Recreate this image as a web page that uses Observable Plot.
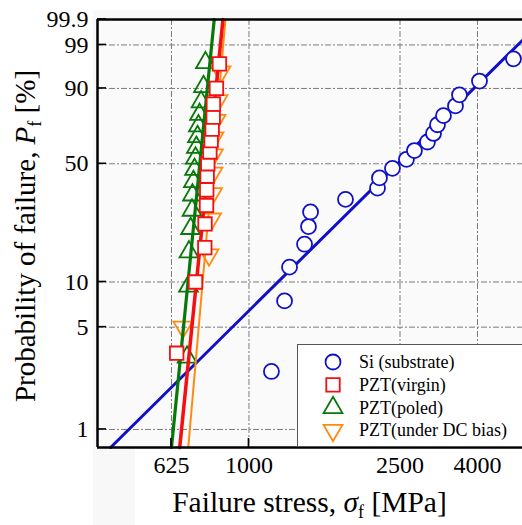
<!DOCTYPE html>
<html><head><meta charset="utf-8">
<script src="https://cdn.jsdelivr.net/npm/d3@7"></script>
<script src="https://cdn.jsdelivr.net/npm/@observablehq/plot@0.6"></script>
<style>
html,body{margin:0;padding:0;background:#fff}
#chart{position:relative;width:522px;height:525px;overflow:hidden}
</style>
</head><body><div id="chart"></div>
<script>
// ---- data ----
const xTickValues = [625, 1000, 2500, 4000];            // MPa
const yTickLabels = [1, 5, 10, 50, 90, 99, 99.9];        // %
const xDomain = [399, 5256];                             // MPa
const yDomainP = [0.751, 99.9];                          // %

const siStress = [1146,1241,1279,1401,1435,1453,1796,2181,2207,2388,2600,2729,2953,3063,3138,3254,3500,3586,4049,4976];
const siP = [2.5,7.5,12.5,17.5,22.5,27.5,32.5,37.5,42.5,47.5,52.5,57.5,62.5,67.5,72.5,77.5,82.5,87.5,92.5,97.5];

const virginStress = [645,723,765,766,773,774,776,779,789,795,800,805,806,821,836];
const virginP = [3.33,10,16.67,23.33,30,36.67,43.33,50,56.67,63.33,70,76.67,83.33,90,96.67];

const poledStress = [687,693,695,702,708,710,714,719,723,727,732,736,741,748,759,768];
const poledP = [3.125,9.375,15.625,21.875,28.125,34.375,40.625,46.875,53.125,59.375,65.625,71.875,78.125,84.375,90.625,96.875];

const biasStress = [670,785,797,802,804,806,809,819,829,844];
const biasP = [5,15,25,35,45,55,65,75,85,95];

// Weibull fit lines: stress at the lower and upper edge of the frame
const fitP = [0.751, 99.9];
const siFitStress = [432, 5970];
const virginFitStress = [657, 854];
const poledFitStress = [625, 810];
const biasFitStress = [692, 867];

const legendNames = ["Si (substrate)", "PZT(virgin)", "PZT(poled)", "PZT(under DC bias)"];

// ---- styling ----
const BLUE = "#1010c8", RED = "#f41010", GREEN = "#08780a", ORANGE = "#ff8a10";
const FONT = "'Liberation Serif','Times New Roman',serif";

// Weibull probability transform
const W = p => Math.log(-Math.log(1 - p / 100));
const rows = (s, p) => s.map((v, i) => ({s: v, w: W(p[i])}));
const labelMap = new Map(yTickLabels.map(p => [W(p), String(p)]));
const yTicksW = [...labelMap.keys()];

const triangleDown = {draw(ctx, size) {
  const y = Math.sqrt(size / (3 * Math.sqrt(3)));
  ctx.moveTo(0, 2 * y); ctx.lineTo(-Math.sqrt(3) * y, -y); ctx.lineTo(Math.sqrt(3) * y, -y); ctx.closePath();
}};

const gridStyle = {stroke: "#7c7c7c", strokeOpacity: 1, strokeWidth: 1, strokeDasharray: "6,2,2,2"};

const chart = Plot.plot({
  width: 522, height: 525,
  marginLeft: 97, marginRight: 0, marginTop: 19, marginBottom: 78,
  style: {fontFamily: FONT, fontSize: "24px", background: "transparent", color: "#000", overflow: "visible"},
  x: {type: "log", domain: xDomain, axis: null},
  y: {type: "linear", domain: yDomainP.map(W)},
  marks: [
    Plot.frame({fill: "#fafafa", stroke: "none"}),
    Plot.gridX(xTickValues, gridStyle),
    Plot.gridY(yTicksW.slice(0, -1), gridStyle),
    Plot.line(rows(siFitStress, fitP), {x: "s", y: "w", stroke: BLUE, strokeWidth: 3}),
    Plot.dot(rows(siStress, siP), {x: "s", y: "w", symbol: "circle", r: 7.5, stroke: BLUE, fill: "#fff", strokeWidth: 1.8}),
    Plot.dot(rows(poledStress, poledP), {x: "s", y: "w", symbol: "triangle", r: 7, stroke: GREEN, fill: "none", strokeWidth: 1.8}),
    Plot.dot(rows(biasStress, biasP), {x: "s", y: "w", symbol: triangleDown, r: 7, stroke: ORANGE, fill: "none", strokeWidth: 1.8}),
    Plot.line(rows(biasFitStress, fitP), {x: "s", y: "w", stroke: ORANGE, strokeWidth: 2}),
    Plot.line(rows(poledFitStress, fitP), {x: "s", y: "w", stroke: GREEN, strokeWidth: 3.2}),
    Plot.line(rows(virginFitStress, fitP), {x: "s", y: "w", stroke: RED, strokeWidth: 3.5}),
    Plot.dot(rows(virginStress, virginP), {x: "s", y: "w", symbol: "square", r: 7.6, stroke: RED, fill: "#fff", strokeWidth: 1.8}),
    Plot.text(xTickValues, {x: d => d, frameAnchor: "bottom", dy: 25, text: d => String(d), fontSize: 24, textAnchor: "middle", fill: "#000"}),
    Plot.axisY(yTicksW, {tickSize: 0, tickPadding: 9, label: null, tickFormat: d => labelMap.get(d)}),
    Plot.ruleX([xDomain[0]], {stroke: "#000", strokeWidth: 2.5}),
    Plot.ruleY(yDomainP.map(W), {stroke: "#000", strokeWidth: 2.4})
  ]
});
document.getElementById("chart").appendChild(chart);

const svg = d3.select(chart);
const xs = chart.scale("x"), ys = chart.scale("y");
const x0 = xs.apply(xDomain[0]), yBottom = ys.apply(W(yDomainP[0])), yTop = ys.apply(W(yDomainP[1]));

// page background patches
svg.insert("rect", ":first-child").attr("x", 135).attr("y", yBottom + 2).attr("width", 400).attr("height", 100).attr("fill", "#fff");
svg.insert("rect", ":first-child").attr("x", x0 - 4).attr("y", 10).attr("width", 440).attr("height", 520).attr("fill", "#f8f8f8");
svg.insert("rect", ":first-child").attr("x", 0).attr("y", 0).attr("width", 522).attr("height", 525).attr("fill", "#fff");

// inward tick marks placed by the plot's scales
const tg = svg.append("g").attr("stroke", "#000").attr("stroke-width", 1.6);
xTickValues.forEach(t => { const x = xs.apply(t); tg.append("line").attr("x1", x).attr("x2", x).attr("y1", yBottom).attr("y2", yBottom - 9); });
yTicksW.forEach(w => { const y = ys.apply(w); tg.append("line").attr("x1", x0).attr("x2", x0 + 9).attr("y1", y).attr("y2", y); });

// axis titles
const xt = svg.append("text").attr("x", (x0 + 522) / 2).attr("y", 512).attr("text-anchor", "middle")
  .attr("font-family", FONT).attr("font-size", 29.5).attr("fill", "#000");
xt.append("tspan").text("Failure stress, ");
xt.append("tspan").attr("font-style", "italic").text("σ");
xt.append("tspan").attr("font-size", 18).attr("dy", 6).text("f");
xt.append("tspan").attr("dy", -6).text(" [MPa]");

const yt = svg.append("text").attr("transform", `translate(35,${(yTop + yBottom) / 2 + 3}) rotate(-90)`).attr("text-anchor", "middle")
  .attr("font-family", FONT).attr("font-size", 29).attr("fill", "#000");
yt.append("tspan").text("Probability of failure, ");
yt.append("tspan").attr("font-style", "italic").text("P");
yt.append("tspan").attr("font-size", 18).attr("dy", 6).text("f");
yt.append("tspan").attr("dy", -6).text(" [%]");

// legend
const lg = svg.append("g");
lg.append("rect").attr("x", 297.5).attr("y", 344.5).attr("width", 240).attr("height", yBottom - 345).attr("fill", "#fff").attr("stroke", "#555").attr("stroke-width", 1);
const legSyms = [
  {sym: d3.symbolCircle, size: Math.PI * 7.5 * 7.5, color: BLUE},
  {sym: d3.symbolSquare, size: Math.PI * 7.6 * 7.6, color: RED},
  {sym: d3.symbolTriangle, size: Math.PI * 49, color: GREEN},
  {sym: triangleDown, size: Math.PI * 49, color: ORANGE}
];
legendNames.forEach((name, i) => {
  const y = 362 + i * 22.8;
  lg.append("path").attr("d", d3.symbol(legSyms[i].sym, legSyms[i].size)()).attr("transform", `translate(333,${y})`)
    .attr("fill", "none").attr("stroke", legSyms[i].color).attr("stroke-width", 1.8);
  lg.append("text").attr("x", 359).attr("y", y).attr("dy", "0.33em").attr("text-anchor", "start")
    .attr("font-family", FONT).attr("font-size", 18).attr("fill", "#000").text(name);
});
</script>
</body></html>
